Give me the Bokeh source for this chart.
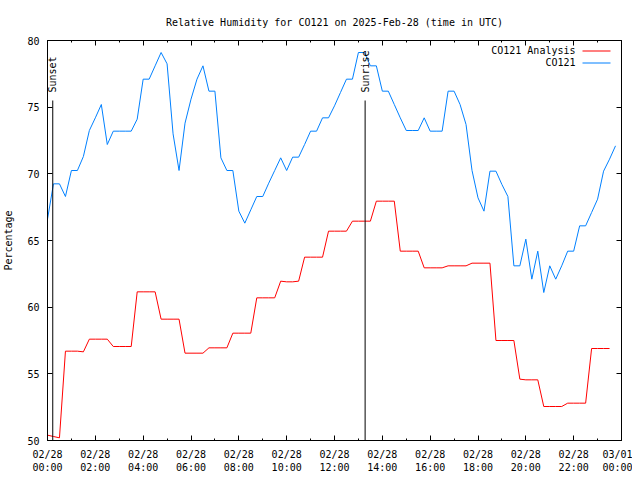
import numpy as np
from bokeh.plotting import figure
from bokeh.models import (Range1d, FixedTicker, LinearAxis, Label, BoxAnnotation)
from bokeh.embed import file_html
from bokeh.resources import INLINE
from bokeh.core.properties import value

# ---------------- data ----------------
TITLE = "Relative Humidity for CO121 on 2025-Feb-28 (time in UTC)"
Y_LABEL = "Percentage"
SERIES_NAMES = ["CO121 Analysis", "CO121"]

# observation times, hours after 2025-02-28 00:00 UTC (15-minute steps)
obs_hours = list(np.arange(96) * 0.25)

# CO121 observed relative humidity (%)
co121 = [66.6, 69.25, 69.25, 68.3, 70.25, 70.25, 71.3, 73.25, 74.2, 75.2,
         72.2, 73.2, 73.2, 73.2, 73.2, 74.1, 77.1, 77.1, 78.1, 79.1,
         78.25, 73.0, 70.25, 73.8, 75.6, 77.1, 78.1, 76.2, 76.2, 71.2,
         70.25, 70.25, 67.2, 66.3, 67.3, 68.3, 68.3, 69.3, 70.25, 71.2,
         70.25, 71.25, 71.25, 72.2, 73.2, 73.2, 74.2, 74.2, 75.1, 76.1,
         77.1, 77.1, 79.1, 79.1, 78.1, 78.1, 76.2, 76.2, 75.2, 74.2,
         73.25, 73.25, 73.25, 74.2, 73.2, 73.2, 73.2, 76.2, 76.2, 75.2,
         73.7, 70.25, 68.2, 67.2, 70.2, 70.2, 69.2, 68.3, 63.1, 63.1,
         65.1, 62.1, 64.2, 61.1, 63.1, 62.1, 63.1, 64.2, 64.2, 66.1,
         66.1, 67.1, 68.1, 70.2, 71.1, 72.1]

# CO121 analysis relative humidity (%)
co121_analysis = [50.4, 50.3, 50.2,
                  56.7, 56.7, 56.7, 56.65,
                  57.6, 57.6, 57.6, 57.6,
                  57.05, 57.05, 57.05, 57.05,
                  61.15, 61.15, 61.15, 61.15,
                  59.1, 59.1, 59.1, 59.1,
                  56.55, 56.55, 56.55, 56.55,
                  56.95, 56.95, 56.95, 56.95,
                  58.05, 58.05, 58.05, 58.05,
                  60.7, 60.7, 60.7, 60.7,
                  61.95, 61.9, 61.9, 61.95,
                  63.75, 63.75, 63.75, 63.75,
                  65.7, 65.7, 65.7, 65.7,
                  66.45, 66.45, 66.45, 66.45,
                  67.95, 67.95, 67.95, 67.95,
                  64.2, 64.2, 64.2, 64.2,
                  62.95, 62.95, 62.95, 62.95,
                  63.1, 63.1, 63.1, 63.1,
                  63.3, 63.3, 63.3, 63.3,
                  57.5, 57.5, 57.5, 57.5,
                  54.6, 54.55, 54.55, 54.55,
                  52.55, 52.55, 52.55, 52.55,
                  52.8, 52.8, 52.8, 52.8,
                  56.9, 56.9, 56.9, 56.9]
analysis_hours = obs_hours[:len(co121_analysis)]

# sun events (hours UTC)
sun_labels = ["Sunset", "Sunrise"]
sun_hours = [0.22, 13.28]
sun_line_top = 75.5
sun_label_y = 76.1

# axis ticks
x_tick_hours = [0, 2, 4, 6, 8, 10, 12, 14, 16, 18, 20, 22, 24]
x_minor_hours = [1, 3, 5, 7, 9, 11, 13, 15, 17, 19, 21, 23]
x_tick_labels = ["02/28\n00:00", "02/28\n02:00", "02/28\n04:00", "02/28\n06:00",
                 "02/28\n08:00", "02/28\n10:00", "02/28\n12:00", "02/28\n14:00",
                 "02/28\n16:00", "02/28\n18:00", "02/28\n20:00", "02/28\n22:00",
                 "03/01\n00:00"]
y_ticks = [50, 55, 60, 65, 70, 75, 80]

RED = "#ff0000"
BLUE = "#0080ff"
COLORS = [RED, BLUE]
FONT = "DejaVu Sans Mono"
FSIZE = "10px"

# ---------------- figure ----------------
p = figure(width=632, height=478, output_backend="svg", toolbar_location=None,
           x_range=Range1d(0, 24), y_range=Range1d(50, 80),
           min_border_left=46, min_border_right=11, min_border_top=40,
           min_border_bottom=38)
p.title.text = TITLE
p.title.align = "center"
p.title.text_font = FONT
p.title.text_font_size = FSIZE
p.title.text_font_style = "normal"
p.title.text_color = "black"
p.title.standoff = 26
p.background_fill_color = "white"
p.border_fill_color = "white"
p.xgrid.visible = False
p.ygrid.visible = False
p.outline_line_color = "black"
p.outline_line_width = 1

xt = FixedTicker(ticks=x_tick_hours, minor_ticks=x_minor_hours)
yt = FixedTicker(ticks=y_ticks, minor_ticks=[])

xa = p.xaxis[0]
xa.ticker = xt
xa.major_label_overrides = {float(h): lab for h, lab in zip(x_tick_hours, x_tick_labels)}
ya = p.yaxis[0]
ya.ticker = yt
ya.axis_label = Y_LABEL
ya.axis_label_text_font = FONT
ya.axis_label_text_font_size = FSIZE
ya.axis_label_text_font_style = "normal"
ya.axis_label_text_color = "black"
ya.axis_label_standoff = 10

for ax in (xa, ya):
    ax.axis_line_color = "black"
    ax.major_tick_line_color = "black"
    ax.minor_tick_line_color = "black"
    ax.major_tick_in = 5
    ax.major_tick_out = 0
    ax.minor_tick_in = 2
    ax.minor_tick_out = 0
    ax.major_label_text_font = FONT
    ax.major_label_text_font_size = FSIZE
    ax.major_label_text_color = "black"
xa.major_label_standoff = 8
ya.major_label_standoff = 8
ya.minor_tick_line_color = None

top = LinearAxis(ticker=xt)
right = LinearAxis(ticker=yt)
for ax in (top, right):
    ax.axis_line_color = "black"
    ax.major_tick_in = 5
    ax.major_tick_out = 0
    ax.minor_tick_in = 2
    ax.minor_tick_out = 0
    ax.major_label_text_font_size = "1px"
    ax.major_label_text_color = None
    ax.major_label_standoff = 0
right.minor_tick_line_color = None
p.add_layout(top, "above")
p.add_layout(right, "right")

p.line(analysis_hours, co121_analysis, line_color=RED, line_width=1)
p.line(obs_hours, co121, line_color=BLUE, line_width=1)

# sunset / sunrise markers
p.segment(x0=sun_hours, y0=[50] * len(sun_hours), x1=sun_hours,
          y1=[sun_line_top] * len(sun_hours), line_color="black", line_width=1)
p.text(x=sun_hours, y=[sun_label_y] * len(sun_hours), text=sun_labels,
       angle=np.pi / 2, text_align="left", text_baseline="middle",
       text_font=value(FONT), text_font_size=FSIZE, text_color="black")

# legend (gnuplot style: text on the left, line sample on the right)
for txt, col, yy in zip(SERIES_NAMES, COLORS, [390, 378]):
    p.add_layout(Label(x=528, y=yy, x_units="screen", y_units="screen",
                       text=txt, text_align="right", text_baseline="middle",
                       text_font=FONT, text_font_size=FSIZE, text_color="black"))
    p.add_layout(BoxAnnotation(left=535, right=563, bottom=yy - 1, top=yy,
                               left_units="screen", right_units="screen",
                               bottom_units="screen", top_units="screen",
                               fill_color=col, fill_alpha=1.0,
                               line_alpha=0, hatch_alpha=0))

open("out.html", "w").write(file_html(p, INLINE))
